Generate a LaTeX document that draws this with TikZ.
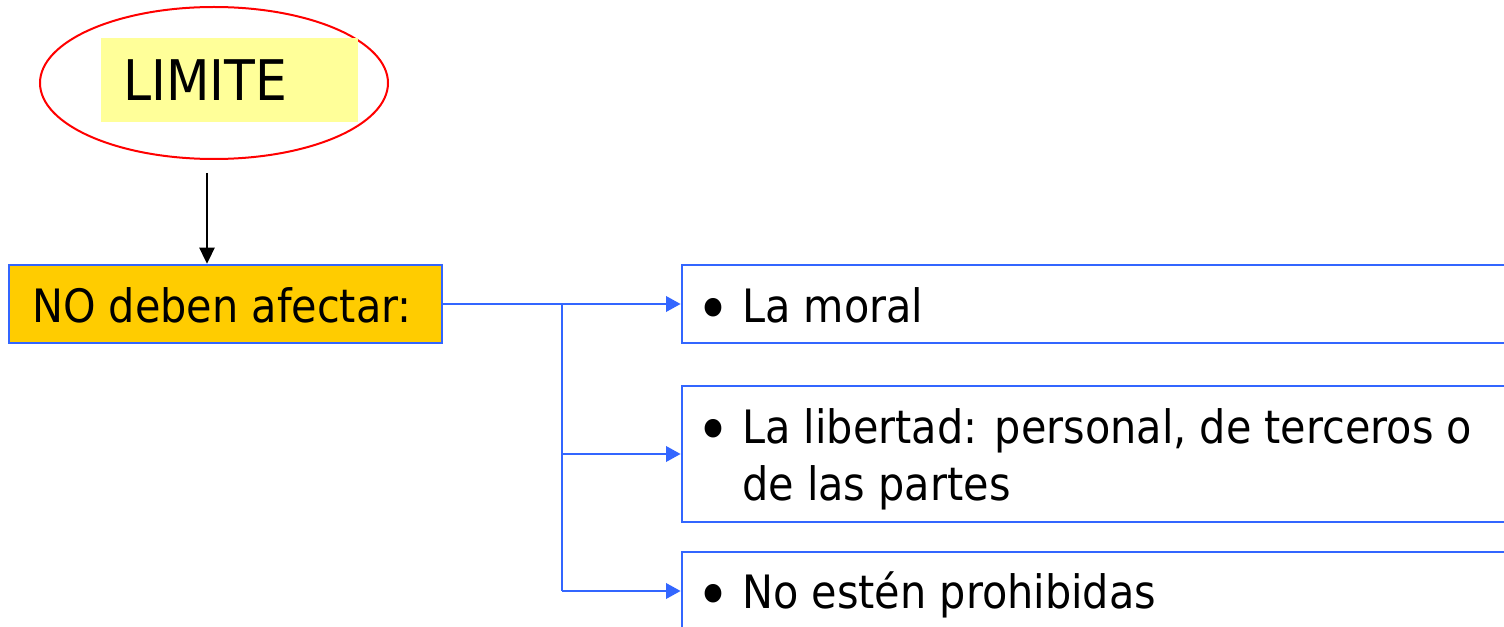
\documentclass[tikz,border=0pt]{standalone}
\usepackage{fontspec}
\setmainfont{DejaVu Sans Condensed}
\usetikzlibrary{arrows.meta,shapes.geometric}
\definecolor{orangeY}{HTML}{FFCC00}
\definecolor{blueL}{HTML}{3366FF}
\definecolor{yellowL}{HTML}{FFFF99}
\newcommand{\txtfont}{\fontsize{34.5pt}{42.75pt}\selectfont}
\newcommand{\bulfont}{\fontsize{48pt}{50pt}\selectfont}
\tikzset{
  itembox/.style={draw=blueL, line width=2pt, inner sep=0pt, minimum width=628.5pt},
  itemtext/.style={anchor=base west, inner sep=0pt, font=\txtfont, align=left},
  bul/.style={anchor=base, inner sep=0pt, font=\bulfont},
  barrow/.style={draw=blueL, line width=2pt, -{Triangle[length=11pt,width=11.5pt]}},
  bline/.style={draw=blueL, line width=2pt},
}
\begin{document}
\begin{tikzpicture}[x=0.75pt,y=-0.75pt]
\useasboundingbox (0,0) rectangle (1504,627);
\clip (0,0) rectangle (1504,627);
% top ellipse and label
\node[ellipse, draw=red, line width=1.5pt, minimum width=261pt, minimum height=114pt, inner sep=0pt] (ell) at (214,83) {};
\node[fill=yellowL, minimum width=192.75pt, minimum height=63pt, inner sep=0pt] (lim) at (229.5,80) {};
\node[anchor=base west, inner sep=0pt, font=\fontsize{42pt}{46pt}\selectfont] (limtxt) at (123,101) {LIMITE};
% orange box
\node[draw=blueL, fill=orangeY, line width=2pt, minimum width=324.75pt, minimum height=58.5pt, inner sep=0pt] (no) at (225.5,304) {};
\node[anchor=base west, inner sep=0pt, font=\txtfont] (notxt) at (32,323) {NO deben afectar:};
% black arrow
\coordinate (as) at (207,173);
\draw[line width=1.2pt, -{Triangle[length=12pt,width=11.5pt]}] (as) -- (as |- no.north);
% right boxes
\node[itembox, minimum height=58.5pt] (b1) at (1101,304) {};
\node[itembox, minimum height=102pt] (b2) at (1101,454) {};
\node[itembox, minimum height=111pt] (b3) at (1101,626) {};
\node[bul] (bu1) at (713,332) {•};
\node[itemtext] (t1) at (742,323) {La moral};
\node[bul] (bu2) at (713,452) {•};
\node[itemtext] (t2) at (742,500) {La libertad: personal, de terceros o\\de las partes};
\node[bul] (bu3) at (713,617) {•};
\node[itemtext] (t3) at (742,608) {No estén prohibidas};
% connectors
\coordinate (j) at (562,304);
\coordinate (j3) at (562,591);
\draw[barrow] (no.east) -- (b1.west);
\draw[bline] (j) -- (j3);
\draw[barrow] (j) |- (b2.west);
\draw[barrow] (j3) -- (j3 -| b3.west);
\end{tikzpicture}
\end{document}
